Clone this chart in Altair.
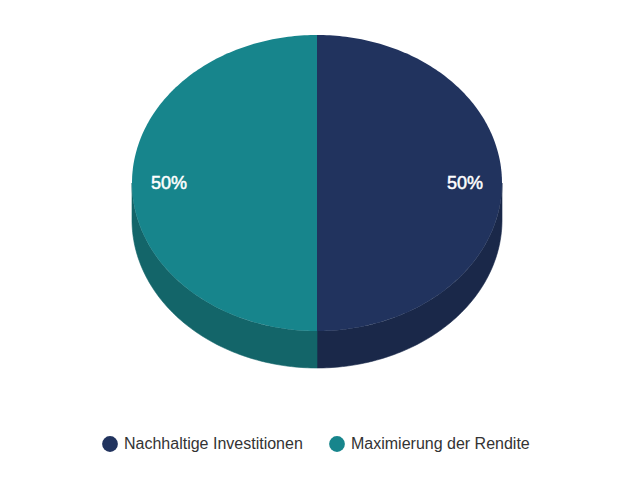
import math
import altair as alt
import pandas as pd

# ---- data ----
categories = ["Nachhaltige Investitionen", "Maximierung der Rendite"]
values = [50, 50]
label_texts = ["50%", "50%"]

top_colors = ["#21335e", "#17858c"]
side_colors = ["#1a2849", "#136569"]

# ---- geometry of the pseudo-3D pie (layout constants) ----
W, H = 624, 464
CX, CY = 317, 183      # centre of the top face (page px)
RX, RY = 185, 148      # radii of the top ellipse
DEPTH = 37             # wall thickness
LABEL_R = 0.8


def pt(deg, dy=0.0):
    a = math.radians(deg)
    return CX + RX * math.sin(a), CY - RY * math.cos(a) + dy


total = sum(values)
top_rows, side_rows, label_rows = [], [], []
start = 0.0
for cat, v, lab in zip(categories, values, label_texts):
    end = start + 360.0 * v / total
    # top face: centre + arc
    order = 0
    top_rows.append(dict(cat=cat, x=CX, y=CY, o=order))
    n = max(2, int(end - start) + 1)
    for k in range(n + 1):
        d = start + (end - start) * k / n
        x, y = pt(d)
        order += 1
        top_rows.append(dict(cat=cat, x=x, y=y, o=order))
    # visible wall (front half between 90 and 270 deg)
    a, b = max(start, 90.0), min(end, 270.0)
    if b > a:
        m = max(2, int(b - a) + 1)
        order = 0
        pts = [a + (b - a) * k / m for k in range(m + 1)]
        for d in pts:
            x, y = pt(d)
            side_rows.append(dict(cat=cat, x=x, y=y, o=order))
            order += 1
        for d in reversed(pts):
            x, y = pt(d, DEPTH)
            side_rows.append(dict(cat=cat, x=x, y=y, o=order))
            order += 1
    mid = (start + end) / 2
    lx = CX + LABEL_R * RX * math.sin(math.radians(mid))
    ly = CY - LABEL_R * RY * math.cos(math.radians(mid))
    label_rows.append(dict(cat=cat, x=lx, y=ly, label=lab))
    start = end

top_df = pd.DataFrame(top_rows)
side_df = pd.DataFrame(side_rows)
label_df = pd.DataFrame(label_rows)

xs = alt.Scale(domain=[8, 8 + W])
ys = alt.Scale(domain=[8, 8 + H], reverse=True)
X = alt.X("x:Q", scale=xs, axis=None)
Y = alt.Y("y:Q", scale=ys, axis=None)

side = alt.Chart(side_df).mark_line(
    filled=True, interpolate="linear-closed", strokeWidth=0.6
).encode(
    x=X, y=Y, order="o:Q", detail="cat:N",
    fill=alt.Fill("cat:N", scale=alt.Scale(domain=categories, range=side_colors), legend=None),
    stroke=alt.Stroke("cat:N", scale=alt.Scale(domain=categories, range=side_colors), legend=None),
)

top = alt.Chart(top_df).mark_line(
    filled=True, interpolate="linear-closed", strokeWidth=0.6
).encode(
    x=X, y=Y, order="o:Q", detail="cat:N",
    color=alt.Color(
        "cat:N",
        scale=alt.Scale(domain=categories, range=top_colors),
        legend=alt.Legend(
            title=None, orient="none", direction="horizontal",
            legendX=94, legendY=428,
            symbolType="circle", symbolSize=250, symbolStrokeWidth=0,
            labelFont="Liberation Sans", labelFontSize=16, labelColor="#333333",
            labelOffset=6, columnPadding=26, labelLimit=400,
        ),
    ),
)

labels = alt.Chart(label_df).mark_text(
    font="Liberation Sans", fontSize=18, fontWeight="normal", color="white",
    stroke="white", strokeWidth=0.5, dy=1,
    align="center", baseline="middle",
).encode(x=X, y=Y, text="label:N")

chart = alt.layer(side, top, labels).resolve_scale(
    color="independent", fill="independent", stroke="independent"
).properties(
    width=W, height=H, padding=0, autosize=alt.AutoSizeParams(type="none")
).configure_view(stroke=None)

chart.save("out.html", embed_options={"renderer": "svg", "actions": False})
